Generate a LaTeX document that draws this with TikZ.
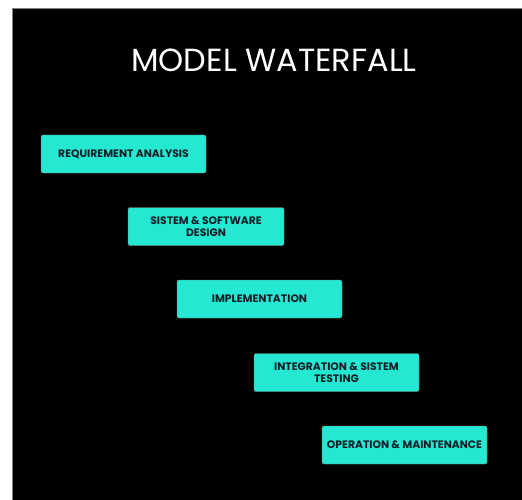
\documentclass[tikz,border=0pt]{standalone}
\usepackage{fontspec}
\setmainfont{Poppins}
\definecolor{stagefill}{HTML}{24E8D2}
\definecolor{stagetext}{HTML}{0E1E26}
\tikzset{
  stage/.style={
    rectangle,
    rounded corners=2pt,
    fill=stagefill,
    draw=gray,
    thin,
    minimum width=165pt,
    minimum height=38pt,
    inner sep=2pt,
    align=center,
    text=stagetext,
    font=\fontsize{10.8}{12}\selectfont\bfseries,
  },
  heading/.style={
    text=white,
    font=\fontsize{32}{36}\selectfont,
  }
}

\begin{document}
\begin{tikzpicture}[x=1pt, y=-1pt]
  \useasboundingbox (0, 0) rectangle (522, 500);
  \draw[fill=black, draw=gray] (12, 8) rectangle (524, 502);

  \node[heading] (title) at (274, 60) {MODEL WATERFALL};

  \node[stage] (req) at (123.5, 154) {REQUIREMENT ANALYSIS};
  \node[stage, minimum width=156pt] (design) at (206, 226.5) {SISTEM \& SOFTWARE\\DESIGN};
  \node[stage] (impl) at (259.5, 299) {IMPLEMENTATION};
  \node[stage] (test) at (336.5, 372.5) {INTEGRATION \& SISTEM\\TESTING};
  \node[stage] (ops) at (404.5, 445) {OPERATION \& MAINTENANCE};

\end{tikzpicture}
\end{document}
